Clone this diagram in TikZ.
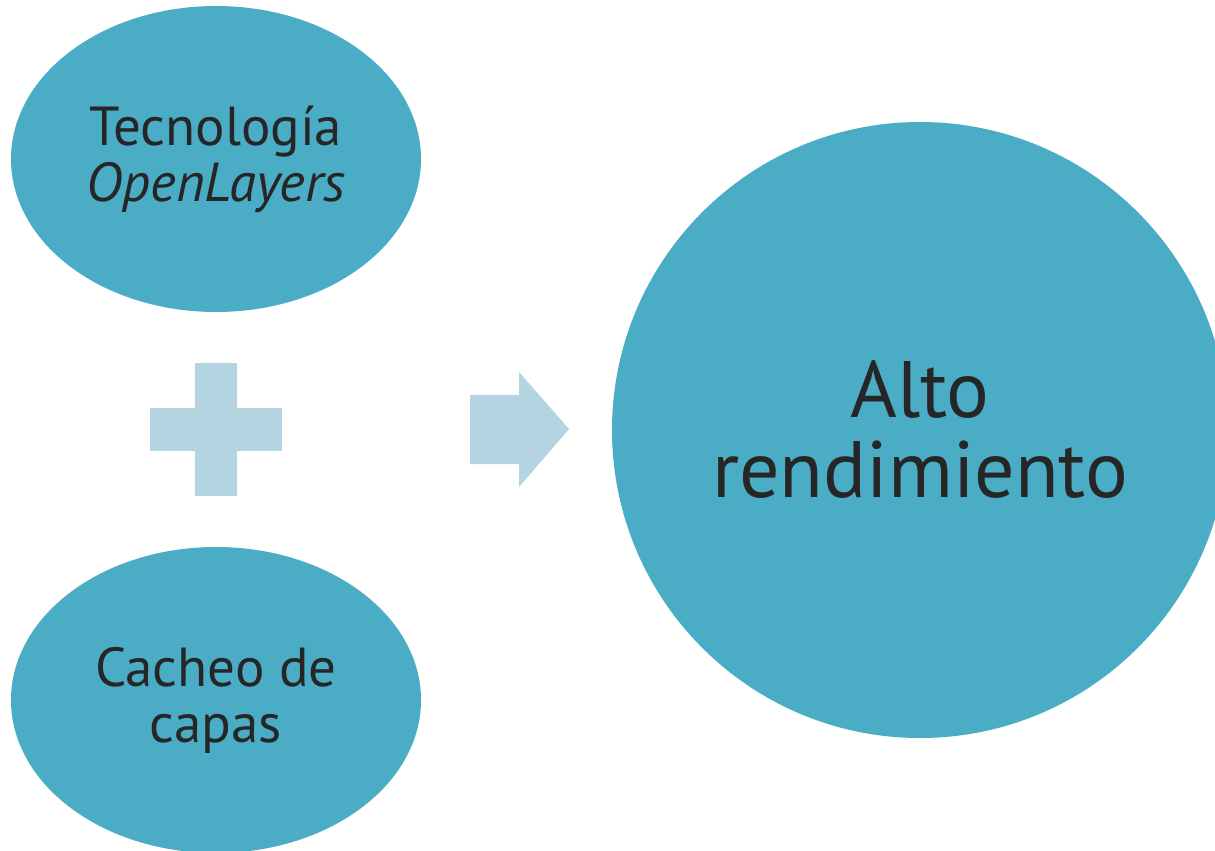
\documentclass[tikz,border=0pt]{standalone}
\usepackage{xcolor}
\usepackage{fontspec}
\setmainfont{PT Sans}
\usepackage{tikz}
\usetikzlibrary{positioning}
\usetikzlibrary{shapes.geometric}
\definecolor{bubble}{HTML}{4BACC6}
\definecolor{sign}{HTML}{B3D4E0}
\definecolor{ink}{HTML}{262626}
\tikzset{sign/.style = {fill=sign,draw=none}}

\begin{document}
\begin{tikzpicture}[x=1pt,y=-1pt,main node/.style={ellipse,fill=bubble,draw=none,inner sep=0pt,text=ink,align=center}]
                \useasboundingbox (0,0) rectangle (1215,851);
                \clip (0,0) rectangle (1215,851);
                \node[main node,minimum width=410pt,minimum height=306pt,font=\fontsize{55}{56}\selectfont] (tec) at (216,159) {Tecnología\\\textit{OpenLayers}};
                \node[main node,minimum width=410pt,minimum height=306pt,font=\fontsize{55}{56}\selectfont] (cache) at (216,700) {Cacheo de\\capas};
                \node[main node,circle,minimum size=616pt,font=\fontsize{80}{80}\selectfont] (alto) at (920,430) {Alto\\rendimiento};

                % plus sign and arrow
                \fill[sign] (195,363) rectangle (237,496);
                \fill[sign] (150,408) rectangle (282,451);
                \fill[sign] (470,395) -- (519,395) -- (519,372) -- (569,429)
                    -- (519,487) -- (519,464) -- (470,464) -- cycle;
            \end{tikzpicture}
\end{document}
